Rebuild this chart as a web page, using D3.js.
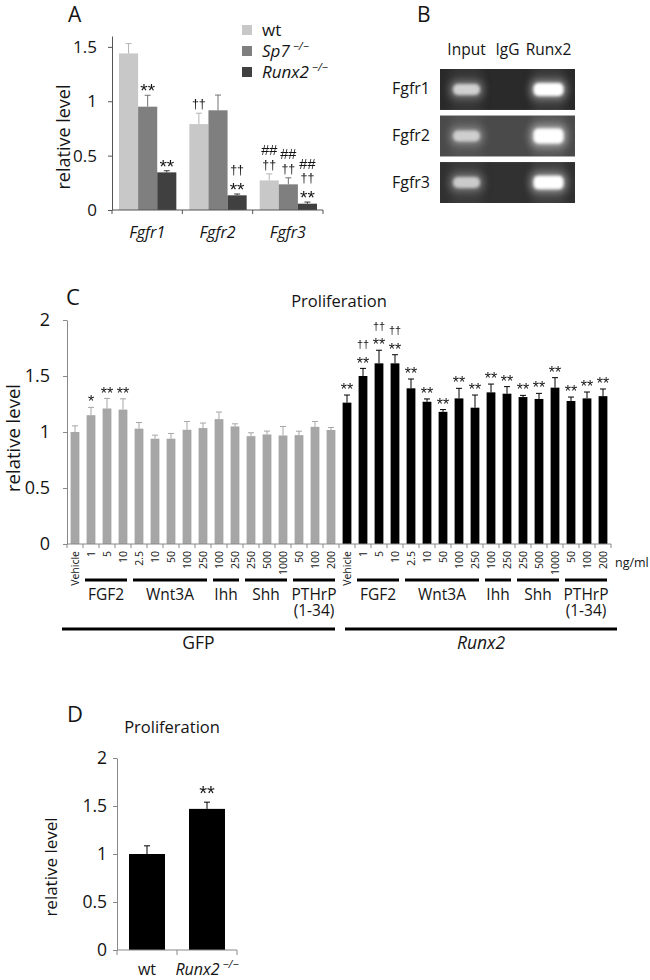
<!DOCTYPE html>
<html><head><meta charset="utf-8">
<script src="https://cdn.jsdelivr.net/npm/d3@7"></script>
<style>
body{margin:0;background:#fff}
svg{display:block}
text{font-family:"Open Sans",sans-serif;fill:#141414}
text.mark{font-family:"Liberation Sans",Arial,sans-serif;fill:#141414}
</style>
</head><body>
<svg id="fig" width="650" height="980"></svg>
<script>
// ---------------- DATA ----------------
// Panel A
const aGenes = ["Fgfr1", "Fgfr2", "Fgfr3"];
const aSeries = ["wt", "Sp7", "Runx2"];
const aWt = [1.44, 0.79, 0.272];
const aWtErr = [0.09, 0.10, 0.06];
const aSp7 = [0.95, 0.917, 0.236];
const aSp7Err = [0.105, 0.14, 0.06];
const aRunx2 = [0.346, 0.135, 0.058];
const aRunx2Err = [0.015, 0.012, 0.015];
const aMarks = [
  [[], ["**"], ["**"]],
  [["††"], [], ["††", "**"]],
  [["##", "††"], ["##", "††"], ["##", "††", "**"]]
];
// Panel B
const bRows = ["Fgfr1", "Fgfr2", "Fgfr3"];
const bLanes = ["Input", "IgG", "Runx2"];
const bBackground = [0.16, 0.29, 0.19];
const bSignal = [[0.8, 0.03, 1.0], [0.75, 0.03, 1.15], [0.75, 0.03, 1.05]];
// Panel C
const cDoses = ["Vehicle", "1", "5", "10", "2.5", "10", "50", "100", "250", "100", "250", "250", "500", "1000", "50", "100", "200"];
const cTreatGroups = ["FGF2", "Wnt3A", "Ihh", "Shh", "PTHrP"];
const cTreatLabels = { FGF2: ["FGF2"], Wnt3A: ["Wnt3A"], Ihh: ["Ihh"], Shh: ["Shh"], PTHrP: ["PTHrP", "(1-34)"] };
const cTreatOf = [null, "FGF2", "FGF2", "FGF2", "Wnt3A", "Wnt3A", "Wnt3A", "Wnt3A", "Wnt3A", "Ihh", "Ihh", "Shh", "Shh", "Shh", "PTHrP", "PTHrP", "PTHrP"];
const cVectors = ["GFP", "Runx2"];
const cGfp = [1.00, 1.15, 1.21, 1.20, 1.03, 0.94, 0.94, 1.02, 1.035, 1.115, 1.05, 0.963, 0.978, 0.969, 0.972, 1.046, 1.018];
const cGfpErr = [0.055, 0.07, 0.09, 0.096, 0.055, 0.032, 0.047, 0.074, 0.045, 0.063, 0.023, 0.03, 0.03, 0.08, 0.035, 0.048, 0.022];
const cRunx2 = [1.262, 1.50, 1.613, 1.613, 1.39, 1.27, 1.18, 1.30, 1.217, 1.354, 1.342, 1.312, 1.295, 1.396, 1.277, 1.30, 1.32];
const cRunx2Err = [0.068, 0.068, 0.117, 0.077, 0.083, 0.025, 0.02, 0.09, 0.113, 0.074, 0.063, 0.015, 0.05, 0.089, 0.035, 0.057, 0.064];
const cGfpMarks = [[], ["*"], ["**"], ["**"], [], [], [], [], [], [], [], [], [], [], [], [], []];
const cRunx2Marks = [["**"], ["††", "**"], ["††", "**"], ["††", "**"], ["**"], ["**"], ["**"], ["**"], ["**"], ["**"], ["**"], ["**"], ["**"], ["**"], ["**"], ["**"], ["**"]];
// Panel D
const dGroups = ["wt", "Runx2"];
const dVals = [1.0, 1.47];
const dErr = [0.085, 0.07];
const dMarks = [[], ["**"]];

// ---------------- HELPERS ----------------
const svg = d3.select("#fig");
const defs = svg.append("defs");
defs.append("filter").attr("id", "flat").attr("x", "-20%").attr("y", "-20%").attr("width", "140%").attr("height", "140%")
  .append("feOffset").attr("dx", 0).attr("dy", 0);
function label(g, x, y, s, size, opts = {}) {
  const t = g.append("text").attr("x", x).attr("y", y).attr("font-size", size).text(s);
  if (opts.anchor) t.attr("text-anchor", opts.anchor);
  if (opts.italic) t.attr("font-style", "italic");
  if (opts.rotate) t.attr("transform", `rotate(${opts.rotate},${x},${y})`);
  return t;
}
function drawMarks(g, x, errTop, marks, cfg) {
  const n = marks.length;
  marks.forEach((m, i) => {
    const level = n - 1 - i;
    const center = errTop - cfg.gap - level * cfg.spacing;
    const isStar = m.includes("*");
    const isHash = m.includes("#");
    const size = isStar ? cfg.star : (isHash ? cfg.hash : cfg.dagger);
    const base = center + (isStar ? 0.57 : (isHash ? 0.34 : 0.3)) * size;
    g.append("text").attr("class", "mark").attr("x", x).attr("y", base).attr("text-anchor", "middle")
      .attr("font-size", size).text(m);
  });
}
function errBar(g, x, y0, y1, cap, color) {
  g.append("line").attr("x1", x).attr("x2", x).attr("y1", y0).attr("y2", y1).attr("stroke", color).attr("stroke-width", 1);
  g.append("line").attr("x1", x - cap / 2).attr("x2", x + cap / 2).attr("y1", y1).attr("y2", y1).attr("stroke", color).attr("stroke-width", 1);
}
function styleAxis(sel, color, size) {
  sel.selectAll("path,line").attr("stroke", color);
  sel.selectAll("text").attr("font-size", size).attr("fill", "#141414").attr("font-family", "Open Sans, sans-serif");
}

// ---------------- PANEL A ----------------
{
  const g = svg.append("g");
  const mg = svg.append("g").attr("filter", "url(#flat)");
  const x0 = d3.scaleBand().domain(aGenes).range([112, 323]);
  const x1 = d3.scaleBand().domain(aSeries).range([7, x0.bandwidth() - 6]);
  const y = d3.scaleLinear().domain([0, 1.6]).range([210, 36]);
  const colors = { wt: "#c8c8c8", Sp7: "#7f7f7f", Runx2: "#404040" };
  const vals = { wt: aWt, Sp7: aSp7, Runx2: aRunx2 };
  const errs = { wt: aWtErr, Sp7: aSp7Err, Runx2: aRunx2Err };
  const rows = [];
  aGenes.forEach((gene, gi) => aSeries.forEach((s, si) => rows.push({ gene, s, gi, si, v: vals[s][gi], e: errs[s][gi], m: aMarks[gi][si] })));
  g.selectAll("rect.bar").data(rows).join("rect").attr("class", "bar")
    .attr("x", d => x0(d.gene) + x1(d.s)).attr("width", x1.bandwidth())
    .attr("y", d => y(d.v)).attr("height", d => y(0) - y(d.v)).attr("fill", d => colors[d.s]);
  rows.forEach(d => {
    const cx = x0(d.gene) + x1(d.s) + x1.bandwidth() / 2;
    errBar(g, cx, y(d.v), y(d.v + d.e), 6, d3.color(colors[d.s]).darker(0.3));
    drawMarks(mg, cx, y(d.v + d.e), d.m, { gap: 9, spacing: 14.5, star: 19, dagger: 12.5, hash: 14.5 });
  });
  const ya = g.append("g").attr("transform", "translate(112,0)")
    .call(d3.axisLeft(y).tickValues([0, 0.5, 1, 1.5]).tickSize(4).tickSizeOuter(0).tickPadding(11).tickFormat(d3.format("~g")));
  styleAxis(ya, "#555", 17);
  g.append("line").attr("x1", 112).attr("x2", 323).attr("y1", y(0)).attr("y2", y(0)).attr("stroke", "#555");
  aGenes.map(d => x0(d)).concat([x0.range()[1]]).forEach(px =>
    g.append("line").attr("x1", px).attr("x2", px).attr("y1", y(0)).attr("y2", y(0) + 4).attr("stroke", "#555"));
  aGenes.forEach(gene => label(g, x0(gene) + x0.bandwidth() / 2, 238, gene, 16, { anchor: "middle", italic: true }));
  label(g, 70, 137, "relative level", 18, { anchor: "middle", rotate: -90 });
  label(g, 68, 22, "A", 21);
  const legNames = { wt: "wt", Sp7: "Sp7", Runx2: "Runx2" };
  aSeries.forEach((s, i) => {
    const cy = 30 + i * 21;
    g.append("rect").attr("x", 242).attr("y", cy - 5).attr("width", 10).attr("height", 10).attr("fill", colors[s]);
    const t = g.append("text").attr("x", 262).attr("y", cy + 6).attr("font-size", 17);
    if (s === "wt") t.text("wt");
    else {
      t.append("tspan").attr("font-style", "italic").text(legNames[s]);
      t.append("tspan").attr("font-style", "italic").attr("font-size", 11).attr("dy", -7).attr("dx", 3).text("−/−");
    }
  });
}

// ---------------- PANEL B ----------------
{
  const g = svg.append("g");
  defs.append("filter").attr("id", "blurBig").attr("x", "-50%").attr("y", "-100%").attr("width", "200%").attr("height", "300%")
    .append("feGaussianBlur").attr("stdDeviation", 4);
  defs.append("filter").attr("id", "blurSmall").attr("x", "-50%").attr("y", "-100%").attr("width", "200%").attr("height", "300%")
    .append("feGaussianBlur").attr("stdDeviation", 1.8);
  const lane = d3.scaleBand().domain(bLanes).range([446, 569]);
  const row = d3.scaleBand().domain(bRows).range([69, 203]).paddingInner(0.12);
  bLanes.forEach(l => label(g, lane(l) + lane.bandwidth() / 2, 55, l, 15.5, { anchor: "middle" }));
  bRows.forEach((r, ri) => {
    const y0 = row(r), h = row.bandwidth();
    const cid = "clip" + ri;
    defs.append("clipPath").attr("id", cid).append("rect").attr("x", 440).attr("y", y0).attr("width", 135).attr("height", h);
    const bg = Math.round(bBackground[ri] * 255);
    g.append("rect").attr("x", 440).attr("y", y0).attr("width", 135).attr("height", h).attr("fill", d3.rgb(bg, bg, bg));
    const gg = g.append("g").attr("clip-path", `url(#${cid})`);
    bLanes.forEach((l, li) => {
      const s = bSignal[ri][li];
      const cx = lane(l) + lane.bandwidth() / 2, cy = y0 + h / 2;
      gg.append("rect").attr("x", cx - 16).attr("y", y0 - 5).attr("width", 32).attr("height", h + 10)
        .attr("fill", "#fff").attr("opacity", s * 0.07).attr("filter", "url(#blurBig)");
      if (s < 0.1) return;
      const bw = li === 2 ? 30 : 27, bh = (li === 2 ? 13 : 11) * Math.max(1, s);
      gg.append("rect").attr("x", cx - bw / 2 - 3).attr("y", cy - bh / 2 - 3).attr("width", bw + 6).attr("height", bh + 6)
        .attr("rx", 6).attr("fill", "#fff").attr("opacity", s * 0.45).attr("filter", "url(#blurBig)");
      gg.append("rect").attr("x", cx - bw / 2).attr("y", cy - bh / 2).attr("width", bw).attr("height", bh)
        .attr("rx", 5).attr("fill", li === 2 ? "#ffffff" : "#e6e6e6").attr("opacity", Math.min(1, s)).attr("filter", "url(#blurSmall)");
    });
    label(g, 430, y0 + h / 2 + 5, r, 16, { anchor: "end" });
  });
  label(g, 417, 22, "B", 21);
}

// ---------------- PANEL C ----------------
{
  const g = svg.append("g");
  const mg = svg.append("g").attr("filter", "url(#flat)");
  const keys = [];
  cVectors.forEach((v, vi) => cDoses.forEach((d, di) => keys.push({ key: v + di, v, vi, di })));
  const x = d3.scaleBand().domain(keys.map(k => k.key)).range([67, 611]).paddingInner(0.45).paddingOuter(0.225);
  const y = d3.scaleLinear().domain([0, 2]).range([544, 320]);
  const vals = { GFP: cGfp, Runx2: cRunx2 }, errs = { GFP: cGfpErr, Runx2: cRunx2Err }, marks = { GFP: cGfpMarks, Runx2: cRunx2Marks };
  const colors = { GFP: "#a6a6a6", Runx2: "#000000" };
  keys.forEach(k => { k.val = vals[k.v][k.di]; k.err = errs[k.v][k.di]; k.m = marks[k.v][k.di]; });
  g.selectAll("rect.bar").data(keys).join("rect").attr("class", "bar")
    .attr("x", d => x(d.key)).attr("width", x.bandwidth())
    .attr("y", d => y(d.val)).attr("height", d => y(0) - y(d.val)).attr("fill", d => colors[d.v]);
  keys.forEach(k => {
    const cx = x(k.key) + x.bandwidth() / 2;
    errBar(g, cx, y(k.val), y(k.val + k.err), 6, colors[k.v]);
    drawMarks(mg, cx, y(k.val + k.err), k.m, { gap: 9, spacing: 15, star: 16, dagger: 11, hash: 11 });
  });
  const ya = g.append("g").attr("transform", "translate(67,0)")
    .call(d3.axisLeft(y).tickValues([0, 0.5, 1, 1.5, 2]).tickSize(4).tickSizeOuter(0).tickPadding(13).tickFormat(d3.format("~g")));
  styleAxis(ya, "#888", 18);
  g.append("line").attr("x1", 67).attr("x2", 611).attr("y1", y(0)).attr("y2", y(0)).attr("stroke", "#888");
  const step = x.step(), half = (step - x.bandwidth()) / 2;
  keys.forEach(k => {
    const px = x(k.key) - half;
    g.append("line").attr("x1", px).attr("x2", px).attr("y1", y(0)).attr("y2", y(0) + 4).attr("stroke", "#888");
  });
  g.append("line").attr("x1", 611).attr("x2", 611).attr("y1", y(0)).attr("y2", y(0) + 4).attr("stroke", "#888");
  keys.forEach(k => {
    const cx = x(k.key) + x.bandwidth() / 2;
    label(g, cx, 551, cDoses[k.di], 10.5, { anchor: "end", rotate: -90 }).attr("dy", "0.35em");
  });
  label(g, 615, 567, "ng/ml", 12.5);
  cVectors.forEach(v => {
    cTreatGroups.forEach(tg => {
      const idx = cTreatOf.map((t, i) => t === tg ? i : -1).filter(i => i >= 0);
      const x1 = x(v + idx[0]) - half + 2;
      const x2 = x(v + idx[idx.length - 1]) + x.bandwidth() + half - 4;
      g.append("line").attr("x1", x1).attr("x2", x2).attr("y1", 580).attr("y2", 580).attr("stroke", "#000").attr("stroke-width", 3);
      const cxm = (x1 + x2) / 2;
      const t = g.append("text").attr("x", cxm).attr("y", 600).attr("font-size", 15.5).attr("text-anchor", "middle");
      cTreatLabels[tg].forEach((ln, li) => t.append("tspan").attr("x", cxm).attr("dy", li === 0 ? 0 : 16).text(ln));
    });
    const first = x(v + 0) - half, last = x(v + (cDoses.length - 1)) + x.bandwidth() + half;
    const off = v === "GFP" ? [-5, -4] : [6, 6];
    g.append("line").attr("x1", first + off[0]).attr("x2", last + off[1]).attr("y1", 629).attr("y2", 629).attr("stroke", "#000").attr("stroke-width", 3);
    label(g, (first + last + off[0] + off[1]) / 2, 649, v, 17.5, { anchor: "middle", italic: v === "Runx2" });
  });
  label(g, 20, 438, "relative level", 18.5, { anchor: "middle", rotate: -90 });
  label(g, 339, 307, "Proliferation", 16.5, { anchor: "middle" });
  label(g, 66, 305, "C", 22);
}

// ---------------- PANEL D ----------------
{
  const g = svg.append("g");
  const mg = svg.append("g").attr("filter", "url(#flat)");
  const x = d3.scaleBand().domain(dGroups).range([117, 237]).paddingInner(0.4).paddingOuter(0.2);
  const y = d3.scaleLinear().domain([0, 2]).range([950, 758]);
  g.selectAll("rect.bar").data(dGroups).join("rect").attr("class", "bar")
    .attr("x", d => x(d)).attr("width", x.bandwidth())
    .attr("y", (d, i) => y(dVals[i])).attr("height", (d, i) => y(0) - y(dVals[i])).attr("fill", "#000");
  dGroups.forEach((d, i) => {
    const cx = x(d) + x.bandwidth() / 2;
    errBar(g, cx, y(dVals[i]), y(dVals[i] + dErr[i]), 6, "#000");
    drawMarks(mg, cx, y(dVals[i] + dErr[i]), dMarks[i], { gap: 14, spacing: 15, star: 20, dagger: 12, hash: 12 });
  });
  const ya = g.append("g").attr("transform", "translate(117,0)")
    .call(d3.axisLeft(y).tickValues([0, 0.5, 1, 1.5, 2]).tickSize(4).tickSizeOuter(0).tickPadding(6).tickFormat(d3.format("~g")));
  styleAxis(ya, "#888", 17.5);
  g.append("line").attr("x1", 117).attr("x2", 237).attr("y1", y(0)).attr("y2", y(0)).attr("stroke", "#888");
  const mid = (x("wt") + x.bandwidth() + x("Runx2")) / 2;
  [117, mid, 237].forEach(px =>
    g.append("line").attr("x1", px).attr("x2", px).attr("y1", y(0)).attr("y2", y(0) + 5).attr("stroke", "#888"));
  label(g, x("wt") + x.bandwidth() / 2, 975, "wt", 16, { anchor: "middle" });
  const t = g.append("text").attr("x", x("Runx2") + x.bandwidth() / 2).attr("y", 975).attr("text-anchor", "middle").attr("font-size", 16);
  t.append("tspan").attr("font-style", "italic").text("Runx2");
  t.append("tspan").attr("font-style", "italic").attr("font-size", 11).attr("dy", -7).attr("dx", 3).text("−/−");
  label(g, 57, 867, "relative level", 17, { anchor: "middle", rotate: -90 });
  label(g, 172, 733, "Proliferation", 16.5, { anchor: "middle" });
  label(g, 67, 722, "D", 22);
}
</script>
</body></html>
